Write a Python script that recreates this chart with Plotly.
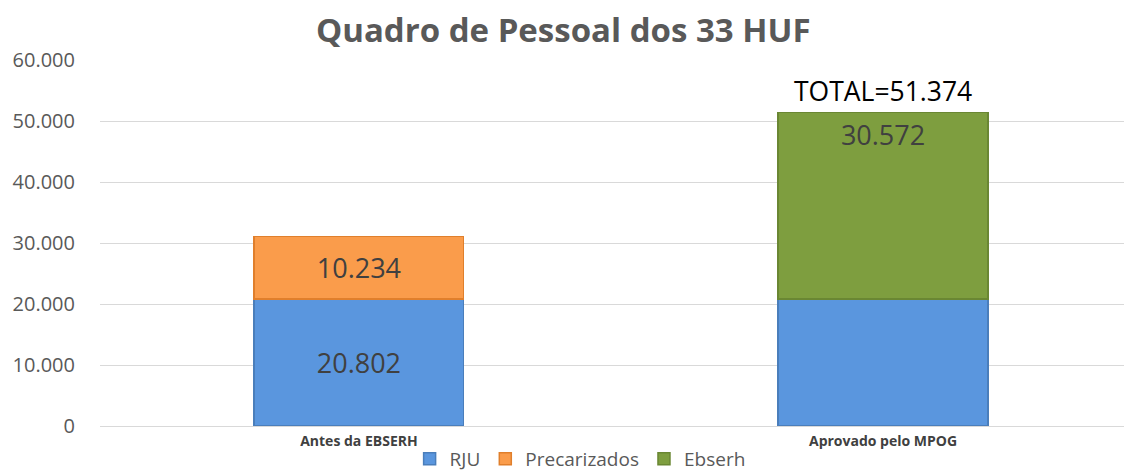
import plotly.graph_objects as go

categories = ["Antes da EBSERH", "Aprovado pelo MPOG"]
rju = [20802, 20802]
precarizados = [10234, None]
ebserh = [None, 30572]
rju_labels = ["20.802", ""]
prec_labels = ["10.234", ""]
ebserh_labels = ["", "30.572"]
tick_vals = [0, 10000, 20000, 30000, 40000, 50000, 60000]
tick_text = ["0", "10.000", "20.000", "30.000", "40.000", "50.000", "60.000"]

total = rju[1] + ebserh[1]
total_text = "TOTAL=" + f"{total:,}".replace(",", ".")

FONT = "Open Sans"
lbl_font = dict(family=FONT, size=27, color="#404040")

fig = go.Figure()
fig.add_trace(go.Bar(
    name="RJU", x=categories, y=rju, text=rju_labels,
    textposition="inside", insidetextanchor="middle", textfont=lbl_font,
    marker=dict(color="#5A96DE", line=dict(color="#4A7EBB", width=1.5)),
    hoverinfo="skip",
))
fig.add_trace(go.Bar(
    name="Precarizados", x=categories, y=precarizados, text=prec_labels,
    textposition="inside", insidetextanchor="middle", textfont=lbl_font,
    marker=dict(color="#FA9C4B", line=dict(color="#E07F2C", width=1.5)),
    hoverinfo="skip",
))
fig.add_trace(go.Bar(
    name="Ebserh", x=categories, y=ebserh, text=ebserh_labels,
    textposition="inside", insidetextanchor="end", textfont=lbl_font,
    marker=dict(color="#7E9E3F", line=dict(color="#6A8733", width=1.5)),
    hoverinfo="skip",
))

fig.add_annotation(
    x=categories[1], y=total, text=total_text, showarrow=False,
    yanchor="bottom", yshift=2,
    font=dict(family=FONT, size=26.5, color="#000000"),
)

# page body has an 8px default margin, so the figure is sized to fit the window
fig.update_layout(
    width=1124, height=463,
    barmode="stack", bargap=0.6,
    separators=",.",
    paper_bgcolor="white", plot_bgcolor="white",
    margin=dict(l=92, r=0, t=52, b=45, autoexpand=False),
    title=dict(
        text="<b>Quadro de Pessoal dos 33 HUF</b>",
        x=0.494, xanchor="center", xref="container",
        y=0.951, yanchor="middle", yref="container",
        font=dict(family=FONT, size=33, color="#595959"),
    ),
    xaxis=dict(
        type="category", range=[-0.494, 1.475], automargin=False,
        tickfont=dict(family=FONT, size=14, color="#404040", weight="bold"),
        showline=True, linecolor="#D9D9D9", linewidth=1,
        ticks="", showgrid=False, ticklabelstandoff=2,
    ),
    yaxis=dict(
        range=[0, 60000], tickvals=tick_vals, ticktext=tick_text,
        automargin=False,
        tickfont=dict(family=FONT, size=20, color="#595959"),
        showgrid=True, gridcolor="#D9D9D9", gridwidth=1,
        zeroline=False, ticks="", ticklabelstandoff=24,
    ),
    legend=dict(
        orientation="h", x=0.509, xanchor="center", xref="container",
        y=0.026, yanchor="middle", yref="container",
        font=dict(family=FONT, size=19, color="#595959"),
        bgcolor="rgba(0,0,0,0)",
        itemwidth=30, traceorder="normal", tracegroupgap=0,
    ),
    showlegend=True,
)

fig.write_html("out.html")
